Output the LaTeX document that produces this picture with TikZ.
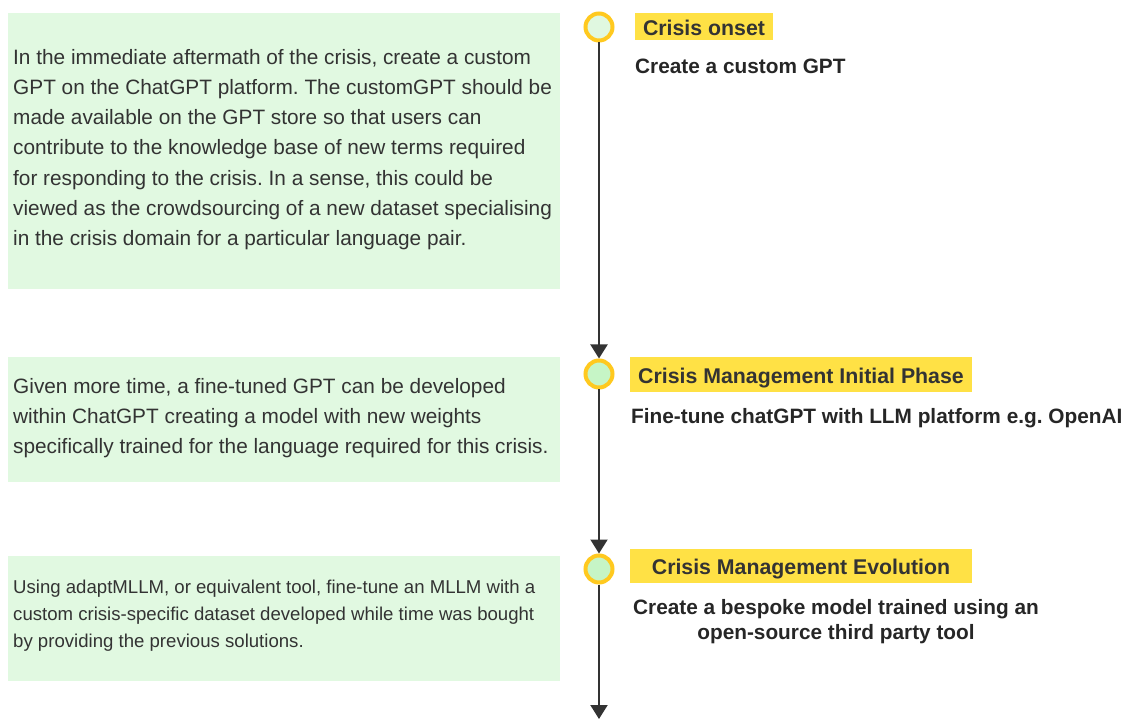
\documentclass[tikz,border=0pt]{standalone}
\usepackage{fontspec}
\setmainfont{Liberation Sans}
\usetikzlibrary{arrows.meta}
\frenchspacing
\definecolor{boxgreen}{HTML}{E1F9E1}
\definecolor{dotgreen}{HTML}{C6F5C6}
\definecolor{dotlight}{HTML}{E0F8E0}
\definecolor{labyellow}{HTML}{FFE145}
\definecolor{ringyellow}{HTML}{FFC91F}
\definecolor{ink}{HTML}{333333}
\begin{document}
\begin{tikzpicture}[x=1pt,y=-1pt,
  gbox/.style={fill=boxgreen, draw=none, anchor=north west, minimum width=552pt, inner sep=0pt},
  btext/.style={anchor=north west, inner sep=0pt, align=left, text=ink},
  dot/.style={circle, draw=ringyellow, line width=4pt, fill=dotgreen, minimum size=27pt, inner sep=0pt},
  lab/.style={fill=labyellow, text=ink, font=\fontsize{21.3}{25}\selectfont\bfseries, inner sep=0pt, text height=17.2pt, text depth=0pt},
  sub/.style={text=black!85, font=\fontsize{20.8}{25}\selectfont\bfseries, inner sep=0pt},
  conn/.style={draw=ink, line width=2pt, -{Triangle[width=17pt,length=14pt]}}
]
\useasboundingbox (0,0) rectangle (1125,719);
% green boxes
\node[gbox, minimum height=276pt] (b1) at (8,13) {};
\node[gbox, minimum height=125pt] (b2) at (8,357) {};
\node[gbox, minimum height=125pt] (b3) at (8,556) {};
% box texts
\node[btext, font=\fontsize{20.8}{30.2}\selectfont] (t1) at (13,49) {In the immediate aftermath of the crisis, create a custom\\GPT on the ChatGPT platform. The customGPT should be\\made available on the GPT store so that users can\\contribute to the knowledge base of new terms required\\for responding to the crisis. In a sense, this could be\\viewed as the crowdsourcing of a new dataset specialising\\in the crisis domain for a particular language pair.};
\node[btext, font=\fontsize{20.8}{30.2}\selectfont] (t2) at (13,378) {Given more time, a fine-tuned GPT can be developed\\within ChatGPT creating a model with new weights\\specifically trained for the language required for this crisis.};
\node[btext, font=\fontsize{18.6}{27}\selectfont] (t3) at (13,580) {Using adaptMLLM, or equivalent tool, fine-tune an MLLM with a\\custom crisis-specific dataset developed while time was bought\\by providing the previous solutions.};
% timeline dots
\node[dot, fill=dotlight] (c1) at (599,27) {};
\node[dot] (c2) at (599,374) {};
\node[dot] (c3) at (599,569) {};
\coordinate (end) at (599,719);
\draw[conn] (c1) -- (c2);
\draw[conn] (c2) -- (c3);
\draw[conn] (c3) -- (end);
% labels
\node[lab, minimum width=138pt, minimum height=27pt] (l1) at (704,27) {Crisis onset};
\node[lab, minimum width=342pt, minimum height=34.5pt] (l2) at (801,374.5) {Crisis Management Initial Phase};
\node[lab, minimum width=342pt, minimum height=33.5pt] (l3) at (801,566) {Crisis Management Evolution};
% subtitles
\node[sub, anchor=west] (s1) at (635,66.5) {Create a custom GPT};
\node[sub, anchor=west] (s2) at (631,418.5) {Fine-tune chatGPT with LLM platform e.g. OpenAI};
\node[sub, align=center] (s3) at (836,622) {Create a bespoke model trained using an\\open-source third party tool};
\end{tikzpicture}
\end{document}
